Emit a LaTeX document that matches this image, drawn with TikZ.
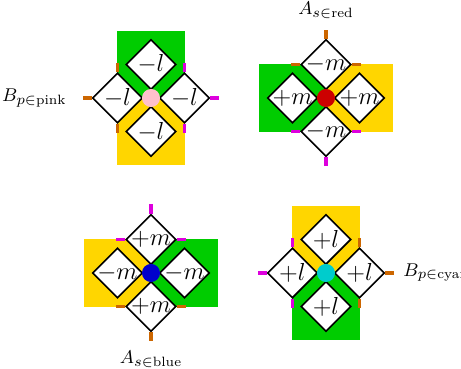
\documentclass[tikz,border=0pt]{standalone}
\usepackage{amsmath}
\usepackage{amsfonts}
\usepackage{tikz}
\usetikzlibrary{shapes.geometric, positioning, calc}

\definecolor{grn}{RGB}{0,204,0}
\definecolor{ylw}{RGB}{255,214,0}
\definecolor{orng}{RGB}{204,102,0}
\definecolor{mgnt}{RGB}{221,0,221}
\definecolor{pnk}{RGB}{255,192,203}
\definecolor{rd}{RGB}{204,0,0}
\definecolor{bl}{RGB}{0,0,204}
\definecolor{cyn}{RGB}{0,204,204}

\begin{document}
\begin{tikzpicture}[
  cell/.style = {diamond, draw, thick, fill = white, inner sep = 0, minimum size = 0.86cm},
  every label/.style = {font = \fontsize{12.4}{15}\selectfont, inner sep = 0},
  tag/.style = {font = \fontsize{9.4}{11}\selectfont},
  tickO/.style = {orng, line width = 1.5pt},
  tickM/.style = {mgnt, line width = 1.5pt},
  site/.style = {circle, inner sep = 0, minimum size = 0.31cm}
]
\useasboundingbox (-2.589, -4.646) rectangle (5.315, 1.680);

% pink plaquette
\fill[grn] (-0.575, 0) rectangle (0.575, 1.15);
\fill[ylw] (-0.575, -1.15) rectangle (0.575, 0);
\node[cell, label = center:$-l$] (pkN) at (0, 0.575) {};
\node[cell, label = center:$-l$] (pkW) at (-0.575, 0) {};
\node[cell, label = center:$-l$] (pkE) at (0.575, 0) {};
\node[cell, label = center:$-l$] (pkS) at (0, -0.575) {};
\node[site, fill = pnk] (pk) at (0, 0) {};
\draw[tickO] (pkW.north) -- ++(0, 0.155);
\draw[tickO] (pkW.west) -- ++(-0.155, 0) coordinate (pkT);
\draw[tickO] (pkW.south) -- ++(0, -0.155);
\draw[tickM] (pkE.north) -- ++(0, 0.155);
\draw[tickM] (pkE.east) -- ++(0.155, 0);
\draw[tickM] (pkE.south) -- ++(0, -0.155);
\node[tag, left = 0.15cm of pkT] (pkB) {$B_{p\in\text{pink}}$};

% red star
\fill[grn] (1.85, -0.575) rectangle (3, 0.575);
\fill[ylw] (3, -0.575) rectangle (4.15, 0.575);
\node[cell, label = center:$-m$] (rdN) at (3, 0.575) {};
\node[cell, label = center:$+m$] (rdW) at (2.425, 0) {};
\node[cell, label = center:$+m$] (rdE) at (3.575, 0) {};
\node[cell, label = center:$-m$] (rdS) at (3, -0.575) {};
\node[site, fill = rd] (rdc) at (3, 0) {};
\draw[tickO] (rdN.north) -- ++(0, 0.155) coordinate (rdT);
\draw[tickO] (rdN.west) -- ++(-0.155, 0);
\draw[tickO] (rdN.east) -- ++(0.155, 0);
\draw[tickM] (rdS.west) -- ++(-0.155, 0);
\draw[tickM] (rdS.east) -- ++(0.155, 0);
\draw[tickM] (rdS.south) -- ++(0, -0.155);
\node[tag, above = 0.06cm of rdT] (rdA) {$A_{s\in\text{red}}$};

% blue star
\fill[ylw] (-1.15, -3.575) rectangle (0, -2.425);
\fill[grn] (0, -3.575) rectangle (1.15, -2.425);
\node[cell, label = center:$+m$] (blN) at (0, -2.425) {};
\node[cell, label = center:$-m$] (blW) at (-0.575, -3) {};
\node[cell, label = center:$-m$] (blE) at (0.575, -3) {};
\node[cell, label = center:$+m$] (blS) at (0, -3.575) {};
\node[site, fill = bl] (blc) at (0, -3) {};
\draw[tickM] (blN.north) -- ++(0, 0.155);
\draw[tickM] (blN.west) -- ++(-0.155, 0);
\draw[tickM] (blN.east) -- ++(0.155, 0);
\draw[tickO] (blS.west) -- ++(-0.155, 0);
\draw[tickO] (blS.east) -- ++(0.155, 0);
\draw[tickO] (blS.south) -- ++(0, -0.155) coordinate (blT);
\node[tag, below = 0.04cm of blT] (blA) {$A_{s\in\text{blue}}$};

% cyan plaquette
\fill[ylw] (2.425, -3) rectangle (3.575, -1.85);
\fill[grn] (2.425, -4.15) rectangle (3.575, -3);
\node[cell, label = center:$+l$] (cyN) at (3, -2.425) {};
\node[cell, label = center:$+l$] (cyW) at (2.425, -3) {};
\node[cell, label = center:$+l$] (cyE) at (3.575, -3) {};
\node[cell, label = center:$+l$] (cyS) at (3, -3.575) {};
\node[site, fill = cyn] (cyc) at (3, -3) {};
\draw[tickM] (cyW.north) -- ++(0, 0.155);
\draw[tickM] (cyW.west) -- ++(-0.155, 0);
\draw[tickM] (cyW.south) -- ++(0, -0.155);
\draw[tickO] (cyE.north) -- ++(0, 0.155);
\draw[tickO] (cyE.east) -- ++(0.155, 0) coordinate (cyT);
\draw[tickO] (cyE.south) -- ++(0, -0.155);
\node[tag, right = 0.03cm of cyT] (cyB) {$B_{p\in\text{cyan}}$};
\end{tikzpicture}
\end{document}
